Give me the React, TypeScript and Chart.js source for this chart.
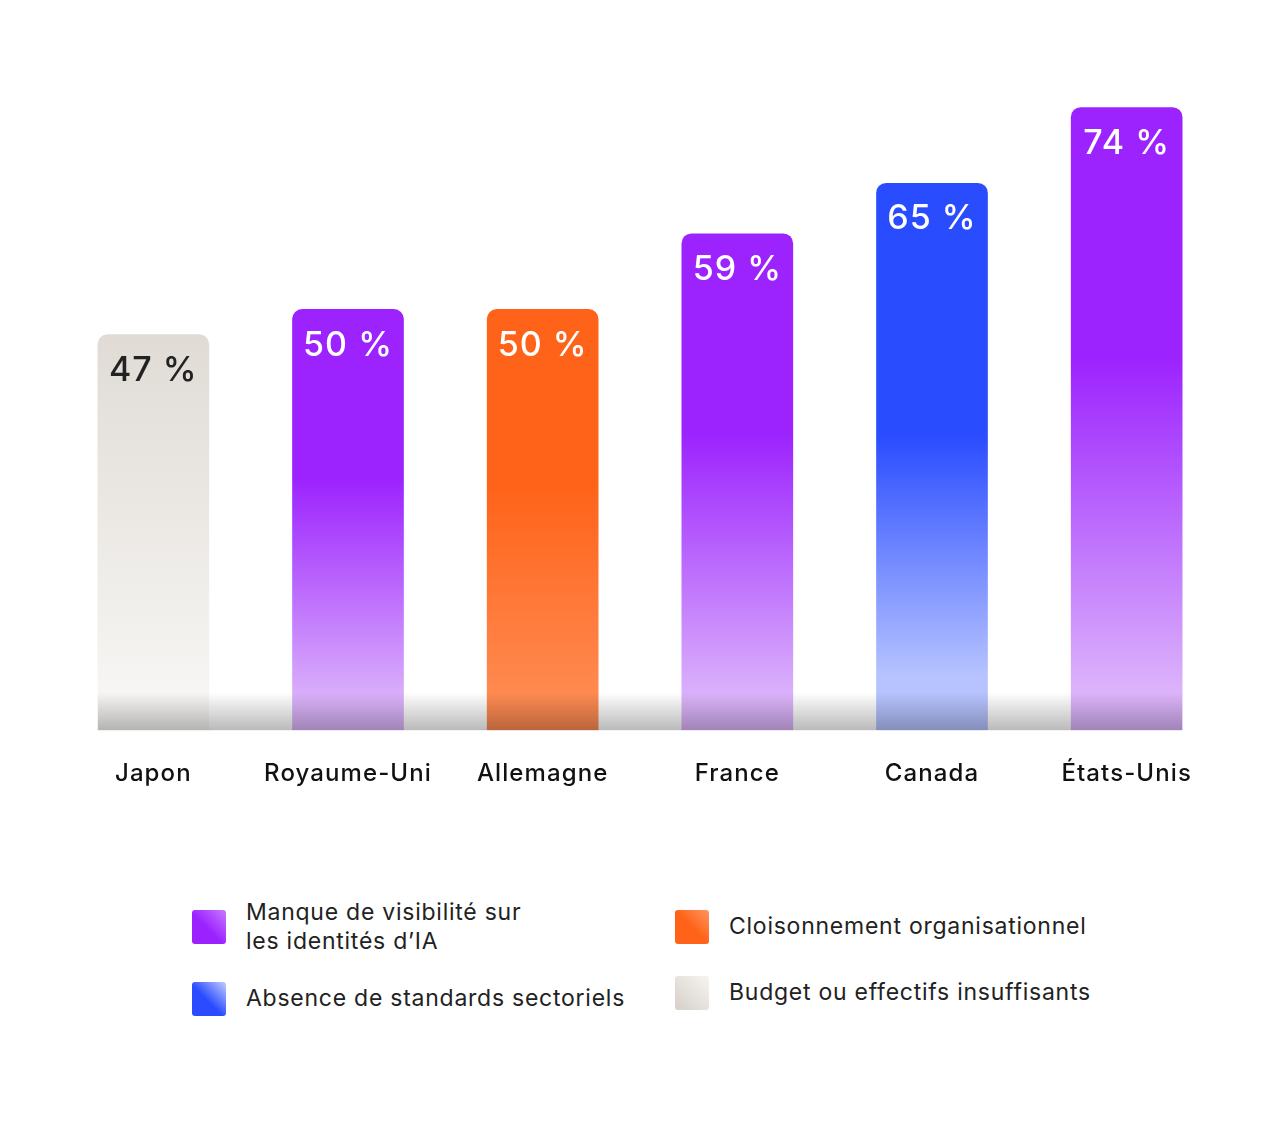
import { useEffect, useRef } from "react"
import { Chart, registerables } from "chart.js"

Chart.register(...registerables)

const categories = ["Japon", "Royaume-Uni", "Allemagne", "France", "Canada", "États-Unis"]
const values = [47, 50, 50, 59, 65, 74]
// which cause each country's top answer belongs to (index into legendLabels)
const barGroup = [3, 0, 2, 0, 1, 0]
const legendLabels = [
  "Manque de visibilité sur\nles identités d’IA",
  "Absence de standards sectoriels",
  "Cloisonnement organisationnel",
  "Budget ou effectifs insuffisants",
]

const FONT = "Inter, 'Noto Sans', sans-serif"

// [fraction of bar where fade starts, top colour, fraction where it ends, bottom colour]
const groupFades: [number, string, number, string][] = [
  [0.4, "#9c22fe", 0.94, "#dcb4fb"],
  [0.46, "#2a4cff", 0.9, "#b6c3ff"],
  [0.42, "#ff6319", 0.93, "#ff8b52"],
  [0.0, "#e0dbd5", 0.93, "#f7f6f4"],
]

const legendSwatches = [
  "linear-gradient(45deg, #9b22ff 45%, #c77aff 100%)",
  "linear-gradient(45deg, #2a4bff 45%, #c3cdff 100%)",
  "linear-gradient(45deg, #ff6319 50%, #ff9662 100%)",
  "linear-gradient(45deg, #d9d3cc 10%, #f6f4f2 100%)",
]

const legendPos = [
  { left: 192, top: 910, textTop: 898 },
  { left: 192, top: 982, textTop: 984 },
  { left: 675, top: 910, textTop: 912 },
  { left: 675, top: 976, textTop: 978 },
]

const spacing = {
  id: "spacing",
  beforeDraw(chart: Chart) {
    ;(chart.ctx as any).letterSpacing = "1.1px"
  },
}

const barDecor = {
  id: "barDecor",
  afterDatasetsDraw(chart: Chart) {
    const { ctx, chartArea } = chart
    const meta = chart.getDatasetMeta(0)
    const bars = meta.data as any[]
    if (!bars.length) return
    const first = bars[0]
    const last = bars[bars.length - 1]
    const x0 = first.x - first.width / 2
    const x1 = last.x + last.width / 2
    const y1 = chartArea.bottom
    const y0 = y1 - 38
    ctx.save()
    const g = ctx.createLinearGradient(0, y0, 0, y1)
    g.addColorStop(0, "rgba(0,0,0,0)")
    g.addColorStop(1, "rgba(0,0,0,0.27)")
    ctx.fillStyle = g
    ctx.fillRect(x0, y0, x1 - x0, y1 - y0)

    ;(ctx as any).letterSpacing = "1px"
    ctx.font = `500 34px ${FONT}`
    ctx.textAlign = "center"
    ctx.textBaseline = "middle"
    bars.forEach((bar, i) => {
      ctx.fillStyle = barGroup[i] === 3 ? "#222222" : "#ffffff"
      ctx.fillText(`${values[i]} %`, bar.x, bar.y + 36)
    })
    ctx.restore()
  },
}

function BarChart() {
  const chartRef = useRef<HTMLCanvasElement>(null)
  const chartInstance = useRef<Chart | null>(null)

  useEffect(() => {
    if (!chartRef.current) return
    if (chartInstance.current) chartInstance.current.destroy()

    chartInstance.current = new Chart(chartRef.current, {
      type: "bar",
      data: {
        labels: categories,
        datasets: [
          {
            data: values,
            barThickness: 111,
            borderRadius: { topLeft: 10, topRight: 10, bottomLeft: 0, bottomRight: 0 },
            borderSkipped: false,
            backgroundColor: (c: any) => {
              const chart = c.chart as Chart
              const area = chart.chartArea
              if (!area) return "#999"
              const i = c.dataIndex
              const grp = barGroup[i] ?? 0
              const [fStart, cTop, fEnd, cBottom] = groupFades[grp]
              const top = chart.scales.y.getPixelForValue(values[i])
              const bottom = area.bottom
              const g = chart.ctx.createLinearGradient(0, top, 0, bottom)
              g.addColorStop(0, cTop)
              g.addColorStop(fStart, cTop)
              g.addColorStop(fEnd, cBottom)
              g.addColorStop(1, cBottom)
              return g
            },
          },
        ],
      },
      options: {
        responsive: true,
        maintainAspectRatio: false,
        animation: false,
        layout: { padding: { left: 56, right: 56, top: 57, bottom: 15 } },
        plugins: {
          legend: { display: false },
          tooltip: { enabled: false },
        },
        scales: {
          x: {
            grid: { display: false, drawTicks: false },
            border: { display: false },
            ticks: {
              padding: 29,
              color: "#111111",
              font: { family: FONT, size: 24, weight: 500 },
            },
          },
          y: {
            display: false,
            min: 0,
            max: 80,
          },
        },
      },
      plugins: [spacing, barDecor],
    })

    return () => {
      if (chartInstance.current) {
        chartInstance.current.destroy()
        chartInstance.current = null
      }
    }
  }, [])

  return (
    <div style={{ position: "absolute", left: 0, top: 0, width: 1280, height: 832 }}>
      <canvas ref={chartRef} />
    </div>
  )
}

export default function App() {
  useEffect(() => {
    document.body.style.margin = "0"
    document.body.style.background = "#ffffff"
  }, [])

  return (
    <div style={{ position: "relative", width: 1280, height: 1123, fontFamily: FONT }}>
      <BarChart />
      {legendLabels.map((label, i) => (
        <div key={i}>
          <div
            style={{
              position: "absolute",
              left: legendPos[i].left,
              top: legendPos[i].top,
              width: 34,
              height: 34,
              borderRadius: 3,
              background: legendSwatches[i],
            }}
          />
          <div
            style={{
              position: "absolute",
              left: legendPos[i].left + 54,
              top: legendPos[i].textTop,
              fontSize: 23,
              letterSpacing: "0.75px",
              lineHeight: "29px",
              color: "#222222",
              whiteSpace: "pre-line",
            }}
          >
            {label}
          </div>
        </div>
      ))}
    </div>
  )
}
